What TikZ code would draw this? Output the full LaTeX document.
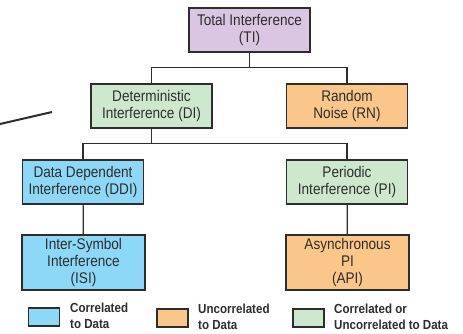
\documentclass[tikz,border=0pt]{standalone}
\usepackage{fontspec}
\setmainfont{Liberation Sans}[FakeStretch=0.88]
\usepackage{xcolor}
\usetikzlibrary{calc}
\definecolor{ti_purple}{RGB}{218,198,226}
\definecolor{corr_blue}{RGB}{140,216,246}
\definecolor{uncorr_orange}{RGB}{250,198,138}
\definecolor{either_green}{RGB}{206,232,206}
\definecolor{box_line}{RGB}{45,45,45}
\tikzset{every picture/.style={x=1bp,y=-1bp}}
\tikzstyle{block} =
  [ rectangle
  , draw=box_line
  , line width=1.2bp
  , minimum width=121bp
  , minimum height=44bp
  , align=center
  , inner sep=1bp
  , text=box_line
  , font=\fontsize{15.5}{17}\selectfont
  ]
\tikzstyle{total_block}     = [block, fill=ti_purple]
\tikzstyle{correlated_block}   = [block, fill=corr_blue]
\tikzstyle{uncorrelated_block} = [block, fill=uncorr_orange]
\tikzstyle{either_block}    = [block, fill=either_green]
\tikzstyle{key_box} =
  [ rectangle
  , draw=box_line
  , line width=1.2bp
  , minimum width=31bp
  , minimum height=18bp
  ]
\tikzstyle{key_text} =
  [ anchor=west
  , align=left
  , inner sep=0pt
  , text=box_line
  , font=\fontsize{13.2}{16}\selectfont\bfseries
  ]
\tikzstyle{link} = [draw=box_line, line width=1.2bp]

\begin{document}
\begin{tikzpicture}
    \useasboundingbox (0,0) rectangle (463,333);

    \node[total_block]  (ti) at (249.5, 30) {Total Interference\\(TI)};
    \node[either_block] (di) at (151.5,106) {Deterministic\\Interference (DI)};
    \node[uncorrelated_block] (rn) at (347,106) {Random\\Noise (RN)};
    \draw[link] (ti.south) -- ++(0,15) coordinate (ti_fork);
    \draw[link] (ti_fork) -| (di.north);
    \draw[link] (ti_fork) -| (rn.north);

    \node[correlated_block] (ddi) at (83,182)  {Data Dependent\\Interference (DDI)};
    \node[either_block]     (pi)  at (347,182) {Periodic\\Interference (PI)};
    \draw[link] (di.south) -- ++(0,15) coordinate (di_fork);
    \draw[link] (di_fork) -| (ddi.north);
    \draw[link] (di_fork) -| (pi.north);

    \node[correlated_block,minimum width=123bp,minimum height=55bp]   (isi) at (83.5,262.5)  {Inter-Symbol\\Interference\\(ISI)};
    \node[uncorrelated_block,minimum width=123bp,minimum height=55bp] (api) at (347.5,262.5) {Asynchronous\\PI\\(API)};
    \draw[link] (ddi) -- (isi);
    \draw[link] (pi) -- (api);

    % legend
    \node[key_box,fill=corr_blue]     (key_corr)   at (44,317)  {};
    \node[key_text] (key_corr_txt)   at (70,316)  {Correlated\\to Data};
    \node[key_box,fill=uncorr_orange] (key_uncorr) at (172.5,318) {};
    \node[key_text] (key_uncorr_txt) at (198,317) {Uncorrelated\\to Data};
    \node[key_box,fill=either_green]  (key_either) at (308.5,318) {};
    \node[key_text] (key_either_txt) at (334,317) {Correlated or\\Uncorrelated to Data};

    % stray stroke at the left edge
    \coordinate (stroke_a) at (0,124);
    \coordinate (stroke_b) at (52,112);
    \draw[line width=2bp, box_line] (stroke_a) -- (stroke_b);
  \end{tikzpicture}
\end{document}
